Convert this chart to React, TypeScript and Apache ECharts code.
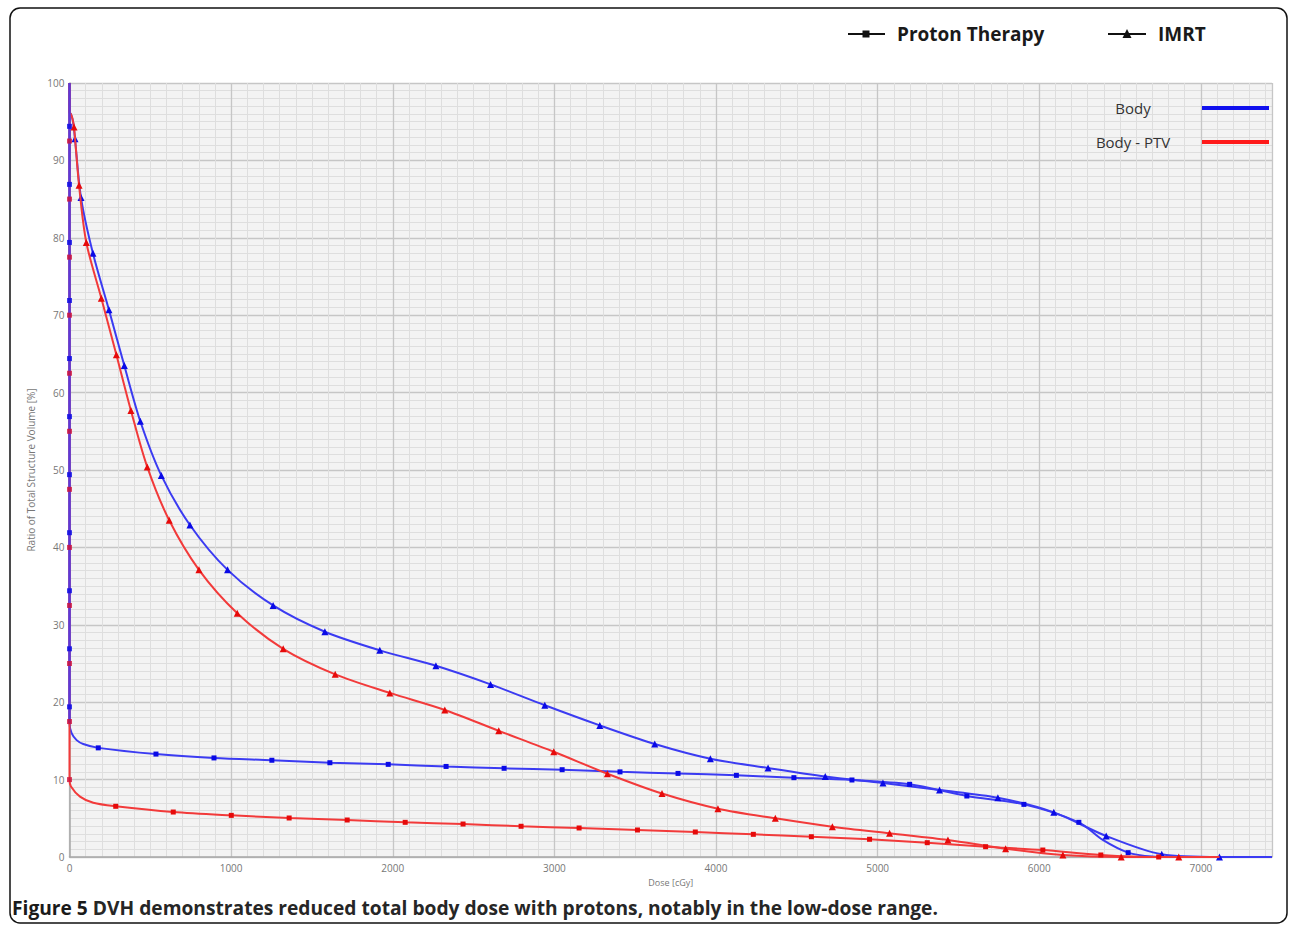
import React, { useEffect, useRef } from "react";
import * as echarts from "echarts";

// ---------- data (dose in cGy, volume in %) ----------
const X_MAX = 7440;
const xTickInterval = 1000;
const yTickInterval = 10;

// IMRT – Body (blue, triangles)
const imrtBodyDose = [0, 0, 8, 18, 26, 34, 71, 145, 244, 339, 438, 568, 745, 978, 1260, 1580, 1920, 2267, 2605, 2941, 3281, 3621, 3965, 4322, 4676, 5033, 5383, 5744, 6090, 6414, 6758, 7115, 7440];
const imrtBodyVol = [100, 96.2, 96.0, 95.4, 94.4, 92.8, 85.2, 78.0, 70.7, 63.5, 56.3, 49.3, 42.9, 37.1, 32.5, 29.1, 26.7, 24.7, 22.3, 19.6, 17.0, 14.6, 12.7, 11.5, 10.4, 9.56, 8.66, 7.66, 5.77, 2.71, 0.35, 0, 0];
const imrtBodyMark = [0, 0, 0, 0, 0, 1, 1, 1, 1, 1, 1, 1, 1, 1, 1, 1, 1, 1, 1, 1, 1, 1, 1, 1, 1, 1, 1, 1, 1, 1, 1, 1, 0];

// IMRT – Body - PTV (red, triangles)
const imrtPtvDose = [0, 0, 8, 18, 28, 59, 104, 197, 290, 380, 481, 617, 801, 1038, 1322, 1644, 1982, 2322, 2656, 2996, 3328, 3666, 4012, 4367, 4720, 5074, 5435, 5792, 6146, 6507, 6863, 7115];
const imrtPtvVol = [100, 96.2, 96.0, 95.4, 94.3, 86.8, 79.4, 72.2, 64.9, 57.7, 50.4, 43.5, 37.1, 31.5, 26.9, 23.6, 21.2, 19.0, 16.3, 13.6, 10.76, 8.2, 6.24, 5.0, 3.92, 3.06, 2.2, 1.08, 0.26, 0, 0, 0];
const imrtPtvMark = [0, 0, 0, 0, 1, 1, 1, 1, 1, 1, 1, 1, 1, 1, 1, 1, 1, 1, 1, 1, 1, 1, 1, 1, 1, 1, 1, 1, 1, 1, 1, 0];

// Proton – Body (blue, squares)
const protonBodyDose = [0, 0, 13, 44, 85, 178, 535, 894, 1252, 1611, 1972, 2330, 2689, 3048, 3406, 3765, 4126, 4482, 4841, 5198, 5552, 5905, 6245, 6393, 6550, 6700, 6800];
const protonBodyVol = [100, 17.3, 16.0, 15.1, 14.6, 14.1, 13.3, 12.8, 12.5, 12.18, 11.97, 11.7, 11.46, 11.28, 11.0, 10.8, 10.55, 10.25, 9.95, 9.39, 7.88, 6.8, 4.48, 2.2, 0.56, 0.05, 0];
const protonBodyMark = [0, 0, 0, 0, 0, 1, 1, 1, 1, 1, 1, 1, 1, 1, 1, 1, 1, 1, 1, 1, 1, 1, 1, 0, 1, 0, 0];
const protonBodyAxisVol = [94.4, 86.9, 79.4, 71.9, 64.4, 56.9, 49.4, 41.9, 34.4, 26.9, 19.4];

// Proton – Body - PTV (red, squares)
const protonPtvDose = [0, 0, 9, 65, 147, 286, 642, 1001, 1359, 1718, 2077, 2435, 2794, 3153, 3514, 3872, 4231, 4590, 4950, 5307, 5668, 6022, 6381, 6739, 6900];
const protonPtvVol = [100, 10.0, 9.1, 7.8, 7.0, 6.55, 5.81, 5.38, 5.04, 4.78, 4.48, 4.26, 3.97, 3.75, 3.49, 3.23, 2.93, 2.62, 2.29, 1.85, 1.33, 0.9, 0.26, 0, 0];
const protonPtvMark = [0, 0, 0, 0, 0, 1, 1, 1, 1, 1, 1, 1, 1, 1, 1, 1, 1, 1, 1, 1, 1, 1, 1, 1, 0];
const protonPtvAxisVol = [92.5, 85.0, 77.5, 70.0, 62.5, 55.0, 47.5, 40.0, 32.5, 25.0, 17.5, 10.0];

const topLegend = ["Proton Therapy", "IMRT"];
const structLegend = ["Body", "Body - PTV"];
const captionBold = "Figure 5";
const captionRest = " DVH demonstrates reduced total body dose with protons, notably in the low-dose range.";

// ---------- styles ----------
const BLUE_LINE = "#3b3bf2";
const BLUE_MARK = "#0a0ae6";
const RED_LINE = "#f23a3a";
const RED_MARK = "#e60a0a";
const PURPLE = "#5b3ad8";
const FONT = "Open Sans";

function curve(dose: number[], vol: number[], mark: number[], symbol: string, size: number) {
  return dose.map((d, i) =>
    mark[i]
      ? { value: [d, vol[i]], symbol, symbolSize: size }
      : { value: [d, vol[i]], symbol: "none" }
  );
}

function lineSeries(name: string, data: any[], lineColor: string, markColor: string, z: number) {
  return {
    type: "line",
    name,
    data,
    smooth: 0.3,
    showAllSymbol: true,
    silent: true,
    z,
    lineStyle: { color: lineColor, width: 2 },
    itemStyle: { color: markColor, borderWidth: 0 },
  };
}

export default function App() {
  const ref = useRef<HTMLDivElement>(null);

  useEffect(() => {
    if (!ref.current) return;
    const chart = echarts.init(ref.current, undefined, { renderer: "svg" });

    const option: any = {
      animation: false,
      textStyle: { fontFamily: FONT },
      grid: {
        left: 69.5,
        right: 18,
        top: 83,
        bottom: 69,
        show: true,
        backgroundColor: "#f3f3f3",
        borderWidth: 0,
      },
      xAxis: {
        type: "value",
        min: 0,
        max: X_MAX,
        interval: xTickInterval,
        name: "Dose [cGy]",
        nameLocation: "middle",
        nameGap: 13,
        nameTextStyle: { fontSize: 9, color: "#777", fontFamily: FONT },
        axisLine: { show: true, lineStyle: { color: "#a8a8a8", width: 1.5 } },
        axisTick: { show: false },
        axisLabel: {
          fontSize: 10,
          color: "#777",
          margin: 6,
          showMaxLabel: false,
          fontFamily: FONT,
          formatter: (v: number) => String(v),
        },
        splitLine: { show: true, lineStyle: { color: "#c6c6c6", width: 1.3 } },
        minorTick: { show: false, splitNumber: 10 },
        minorSplitLine: { show: true, lineStyle: { color: "#dedede", width: 1 } },
      },
      yAxis: {
        type: "value",
        min: 0,
        max: 100,
        interval: yTickInterval,
        name: "Ratio of Total Structure Volume [%]",
        nameLocation: "middle",
        nameGap: 26,
        nameTextStyle: { fontSize: 10, color: "#777", fontFamily: FONT },
        axisLine: { show: true, lineStyle: { color: "#a8a8a8", width: 1.5 } },
        axisTick: { show: false },
        axisLabel: { fontSize: 10, color: "#777", margin: 5, fontFamily: FONT },
        splitLine: { show: true, lineStyle: { color: "#c6c6c6", width: 1.3 } },
        minorTick: { show: false, splitNumber: 10 },
        minorSplitLine: { show: true, lineStyle: { color: "#dedede", width: 1 } },
      },
      series: [
        lineSeries("IMRT Body", curve(imrtBodyDose, imrtBodyVol, imrtBodyMark, "triangle", 7), BLUE_LINE, BLUE_MARK, 2),
        lineSeries("Proton Body", curve(protonBodyDose, protonBodyVol, protonBodyMark, "rect", 5), BLUE_LINE, BLUE_MARK, 2),
        lineSeries("IMRT Body - PTV", curve(imrtPtvDose, imrtPtvVol, imrtPtvMark, "triangle", 7), RED_LINE, RED_MARK, 3),
        lineSeries("Proton Body - PTV", curve(protonPtvDose, protonPtvVol, protonPtvMark, "rect", 5), RED_LINE, RED_MARK, 3),
        {
          type: "line",
          name: "overlap",
          data: [
            [0, protonBodyVol[1]],
            [0, 100],
          ],
          symbol: "none",
          silent: true,
          z: 4,
          lineStyle: { color: PURPLE, width: 2.5 },
        },
        {
          type: "scatter",
          name: "Proton Body axis",
          data: protonBodyAxisVol.map((v) => [0, v]),
          symbol: "rect",
          symbolSize: 5,
          silent: true,
          z: 5,
          itemStyle: { color: BLUE_MARK },
        },
        {
          type: "scatter",
          name: "Proton Body - PTV axis",
          data: protonPtvAxisVol.map((v) => [0, v]),
          symbol: "rect",
          symbolSize: 5,
          silent: true,
          z: 5,
          itemStyle: { color: "#d0103a" },
        },
      ],
      graphic: [
        // outer frame
        {
          type: "rect",
          shape: { x: 10, y: 8, width: 1277, height: 915, r: 10 },
          style: { fill: "none", stroke: "#111", lineWidth: 1.5 },
          silent: true,
          z: 0,
        },
        // top legend: Proton Therapy
        { type: "line", shape: { x1: 848, y1: 34, x2: 885, y2: 34 }, style: { stroke: "#111", lineWidth: 2 }, z: 10 },
        { type: "rect", shape: { x: 862.5, y: 30.5, width: 7, height: 7 }, style: { fill: "#111" }, z: 10 },
        {
          type: "text",
          x: 897,
          y: 34,
          style: { text: topLegend[0], fontSize: 19, fontWeight: "bold", fontFamily: FONT, fill: "#1a1a1a", verticalAlign: "middle", align: "left" },
          z: 10,
        },
        // top legend: IMRT
        { type: "line", shape: { x1: 1108, y1: 34, x2: 1146, y2: 34 }, style: { stroke: "#111", lineWidth: 2 }, z: 10 },
        { type: "polygon", shape: { points: [[1127, 29], [1131.5, 38], [1122.5, 38]] }, style: { fill: "#111" }, z: 10 },
        {
          type: "text",
          x: 1158,
          y: 34,
          style: { text: topLegend[1], fontSize: 19, fontWeight: "bold", fontFamily: FONT, fill: "#1a1a1a", verticalAlign: "middle", align: "left" },
          z: 10,
        },
        // structure legend
        {
          type: "text",
          x: 1133,
          y: 108,
          style: { text: structLegend[0], fontSize: 15, fontFamily: FONT, fill: "#333", verticalAlign: "middle", align: "center" },
          z: 10,
        },
        { type: "line", shape: { x1: 1202, y1: 108, x2: 1269, y2: 108 }, style: { stroke: "#1010ee", lineWidth: 4 }, z: 10 },
        {
          type: "text",
          x: 1133,
          y: 142,
          style: { text: structLegend[1], fontSize: 15, fontFamily: FONT, fill: "#333", verticalAlign: "middle", align: "center" },
          z: 10,
        },
        { type: "line", shape: { x1: 1202, y1: 142, x2: 1269, y2: 142 }, style: { stroke: "#ff1a1a", lineWidth: 4 }, z: 10 },
        // caption
        {
          type: "text",
          x: 12,
          y: 907,
          style: {
            text: "{b|" + captionBold + "}{r|" + captionRest + "}",
            verticalAlign: "middle",
            align: "left",
            rich: {
              b: { fontSize: 19.2, fontWeight: "bold", fontFamily: FONT, fill: "#1a1a1a", color: "#1a1a1a" },
              r: { fontSize: 19.2, fontWeight: "bold", fontFamily: FONT, fill: "#262626", color: "#262626" },
            },
          },
          z: 10,
        },
      ],
    };

    chart.setOption(option);
    return () => chart.dispose();
  }, []);

  return (
    <div
      ref={ref}
      style={{ position: "absolute", left: 0, top: 0, width: 1290, height: 926, background: "#fff" }}
    />
  );
}
